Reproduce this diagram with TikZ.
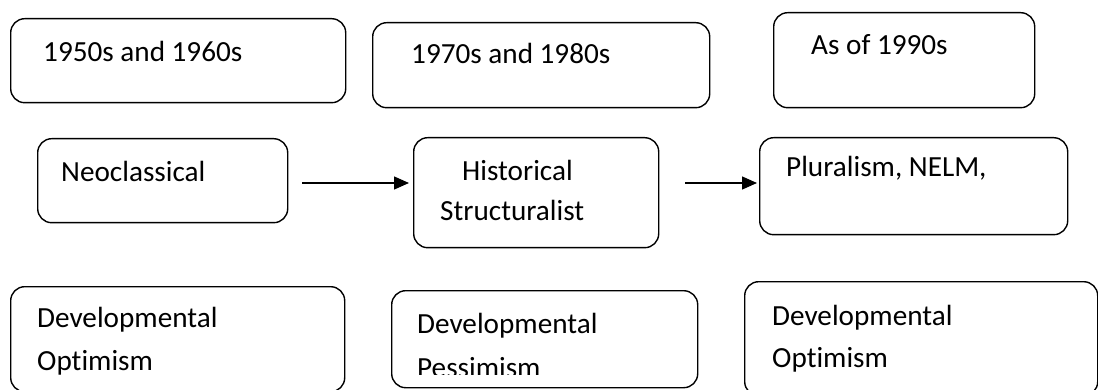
\documentclass[tikz,border=0pt]{standalone}
\usepackage{fontspec}
\setmainfont{Carlito}[Ligatures={NoCommon}]
\usetikzlibrary{arrows.meta}
\tikzset{
  box/.style={draw=black, line width=1.4pt, rounded corners=14pt, inner sep=0pt, anchor=north west},
  txt/.style={anchor=base west, inner sep=0pt, font=\fontsize{29.2}{34}\selectfont},
  arr/.style={line width=1.4pt, -{Triangle[length=15pt,width=13pt]}}
}
\begin{document}
\begin{tikzpicture}[x=1pt,y=-1pt]
\useasboundingbox (0,0) rectangle (1098,390);
% row 1
\node[box, minimum width=335pt, minimum height=84pt] (a1) at (10,18) {};
\node[box, minimum width=337pt, minimum height=85pt] (a2) at (372,22) {};
\node[box, minimum width=261pt, minimum height=95pt] (a3) at (773,12) {};
\node[txt] (ta1) at (43,62) {1950s and 1960s};
\node[txt] (ta2) at (411,64) {1970s and 1980s};
\node[txt] (ta3) at (811,55) {As of 1990s};
% row 2
\node[box, minimum width=250pt, minimum height=84pt] (b1) at (37,138) {};
\node[box, minimum width=245pt, minimum height=110pt] (b2) at (413,137) {};
\node[box, minimum width=308pt, minimum height=97pt] (b3) at (759,137) {};
\node[txt] (tb1) at (61,182) {Neoclassical};
\node[txt] (tb2a) at (462,181) {Historical};
\node[txt] (tb2b) at (440,221) {Structuralist};
\node[txt] (tb3) at (786,177) {Pluralism, NELM,};
\coordinate (s1) at (302,183);
\coordinate (e1) at (409,183);
\coordinate (s2) at (685,183);
\coordinate (e2) at (757,183);
\draw[arr] (s1) -- (e1);
\draw[arr] (s2) -- (e2);
% row 3
\node[box, minimum width=334pt, minimum height=105pt] (c1) at (10,286) {};
\node[box, minimum width=306pt, minimum height=97pt] (c2) at (391,290) {};
\node[box, minimum width=353pt, minimum height=114pt] (c3) at (744,281) {};
\node[txt] (tc1a) at (37,327) {Developmental};
\node[txt] (tc1b) at (37,370) {Optimism};
\node[txt] (tc2a) at (417,333) {Developmental};
\begin{scope}
\clip (391,290) rectangle (697,374.5);
\node[txt] (tc2b) at (417,377) {Pessimism};
\end{scope}
\node[txt] (tc3a) at (772,325) {Developmental};
\node[txt] (tc3b) at (772,367) {Optimism};
\end{tikzpicture}
\end{document}
